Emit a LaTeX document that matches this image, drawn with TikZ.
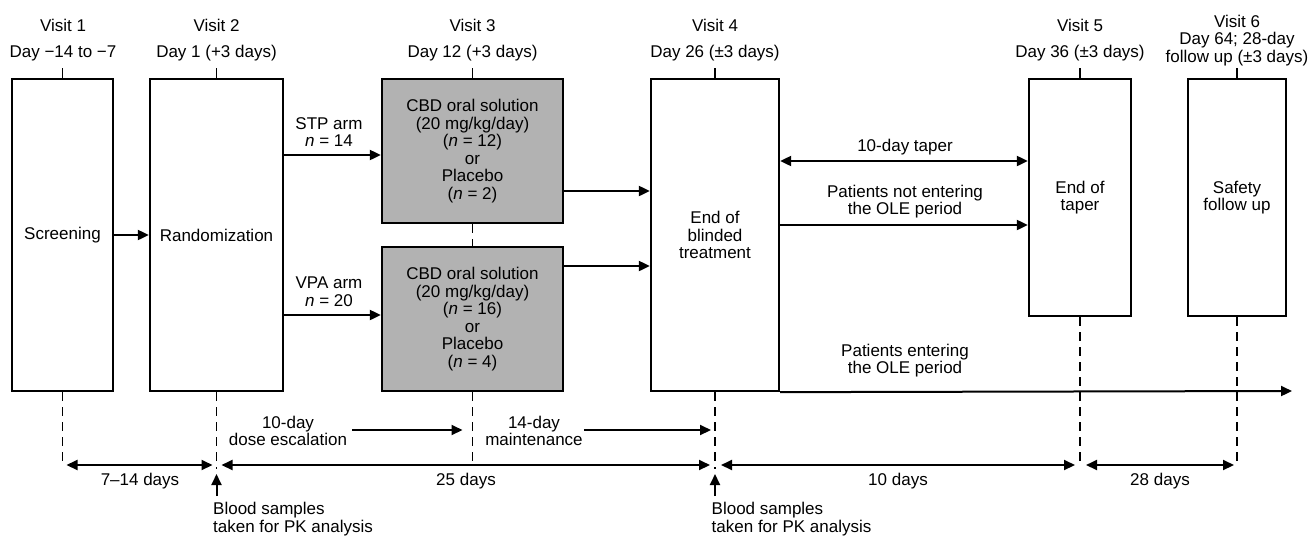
\documentclass[tikz,border=0pt]{standalone}
\usepackage{fontspec}
\setmainfont{Liberation Sans}
\usetikzlibrary{arrows.meta}
\definecolor{boxgray}{RGB}{178,178,178}
\newcommand\dgfont{\fontsize{17}{17.5}\selectfont}
\begin{document}
\begin{tikzpicture}[x=1pt,y=-1pt,
  stage/.style={draw, line width=2.3pt, inner sep=0pt, align=center, font=\dgfont},
  graybox/.style={stage, fill=boxgray, minimum width=181pt, minimum height=144pt},
  lbl/.style={inner sep=0pt, align=center, font=\dgfont},
  arr/.style={line width=2pt, -{Triangle[length=11pt,width=10pt]}},
  darr/.style={line width=2pt, {Triangle[length=11pt,width=10pt]}-{Triangle[length=11pt,width=10pt]}},
  dsh/.style={line width=1.9pt, dash pattern=on 9pt off 6pt},
  tick/.style={line width=1.9pt}]
\useasboundingbox (0,0) rectangle (1311,539);

% boxes
\node[stage, minimum width=101pt, minimum height=312pt] (b1) at (62.5,235) {Screening};
\node[stage, minimum width=133pt, minimum height=312pt] (b2) at (216.5,235) {Randomization};
\node[graybox] (g1) at (472.5,151) {CBD oral solution\\(20 mg/kg/day)\\(\textit{n} = 12)\\or\\Placebo\\(\textit{n} = 2)};
\node[graybox] (g2) at (472.5,319) {CBD oral solution\\(20 mg/kg/day)\\(\textit{n} = 16)\\or\\Placebo\\(\textit{n} = 4)};
\node[stage, minimum width=128pt, minimum height=312pt] (b4) at (715,235) {End of\\blinded\\treatment};
\node[stage, minimum width=102pt, minimum height=237pt] (b5) at (1080,197.5) {End of\\taper};
\node[stage, minimum width=98pt, minimum height=237pt] (b6) at (1237,197.5) {Safety\\follow up};

% visit headers
\node[lbl] (v1) at (63,25) {Visit 1};
\node[lbl] (d1) at (63,53) {Day −14 to −7};
\node[lbl] (v2) at (216.5,25) {Visit 2};
\node[lbl] (d2) at (216.5,53) {Day 1 (+3 days)};
\node[lbl] (v3) at (472.5,25) {Visit 3};
\node[lbl] (d3) at (472.5,53) {Day 12 (+3 days)};
\node[lbl] (v4) at (715,25) {Visit 4};
\node[lbl] (d4) at (715,53) {Day 26 (±3 days)};
\node[lbl] (v5) at (1080,25) {Visit 5};
\node[lbl] (d5) at (1080,53) {Day 36 (±3 days)};
\node[lbl] (v6) at (1237,40.5) {Visit 6\\Day 64; 28-day\\follow up (±3 days)};

% ticks above boxes
\coordinate (tk) at (0,68);
\foreach \b in {b1,b2,g1,b4,b5,b6}{
  \draw[tick] (\b.north) -- (\b.north |- tk);
}
\draw[dsh] (g1.south) -- (g2.north);

% main flow arrows
\draw[arr] (b1.east) -- (b2.west);
\coordinate (stp) at (0,155);
\coordinate (vpa) at (0,315);
\draw[arr] (b2.east |- stp) -- (g1.west |- stp);
\draw[arr] (b2.east |- vpa) -- (g2.west |- vpa);
\node[lbl] (stpl) at (329,132) {STP arm\\\textit{n} = 14};
\node[lbl] (vpal) at (329,291.5) {VPA arm\\\textit{n} = 20};
\coordinate (ga) at (0,191);
\coordinate (gb) at (0,266);
\draw[arr] (g1.east |- ga) -- (b4.west |- ga);
\draw[arr] (g2.east |- gb) -- (b4.west |- gb);

% after end of blinded treatment
\coordinate (tp) at (0,161);
\coordinate (ne) at (0,225);
\draw[darr] (b4.east |- tp) -- (b5.west |- tp);
\node[lbl] (tpl) at (905,147) {10-day taper};
\draw[arr] (b4.east |- ne) -- (b5.west |- ne);
\node[lbl] (nel) at (905,201.5) {Patients not entering\\the OLE period};
\coordinate (oleend) at (1292,391);
\draw[arr] (b4.south east) -- (oleend);
\node[lbl] (olel) at (905,360.5) {Patients entering\\the OLE period};

% dashed drop lines
\coordinate (tl) at (0,466);
\coordinate (tlb) at (0,469);
\draw[dsh] (b1.south) -- (b1.south |- tl);
\draw[dsh] (b2.south) -- (b2.south |- tlb);
\draw[dsh] (g2.south) -- (g2.south |- tl);
\draw[dsh] (b4.south) -- (b4.south |- tlb);
\draw[dsh] (b5.south) -- (b5.south |- tl);
\draw[dsh] (b6.south) -- (b6.south |- tl);

% duration arrows
\coordinate (dl) at (0,465);
\draw[darr] ([xshift=4pt]b1.south |- dl) -- ([xshift=-4pt]b2.south |- dl);
\draw[darr] ([xshift=5pt]b2.south |- dl) -- ([xshift=-5pt]b4.south |- dl);
\draw[darr] ([xshift=6pt]b4.south |- dl) -- ([xshift=-5pt]b5.south |- dl);
\draw[darr] ([xshift=6pt]b5.south |- dl) -- ([xshift=-3pt]b6.south |- dl);
\node[lbl] (l714) at (140,481) {7–14 days};
\node[lbl] (l25) at (466,481) {25 days};
\node[lbl] (l10) at (898,481) {10 days};
\node[lbl] (l28) at (1160,481) {28 days};

% phase arrows
\coordinate (ph) at (0,430);
\node[lbl] (esc) at (288,431) {10-day\\dose escalation};
\node[lbl] (mnt) at (534,431) {14-day\\maintenance};
\draw[arr] (esc.east |- ph) ++(5,0) coordinate (esca) -- ([xshift=-10pt]g2.south |- ph);
\draw[arr] (mnt.east |- ph) ++(1,0) coordinate (mnta) -- ([xshift=-4pt]b4.south |- ph);

% blood samples
\coordinate (bsa) at (0,496);
\coordinate (bsb) at (0,474);
\draw[arr] (b2.south |- bsa) -- (b2.south |- bsb);
\draw[arr] (b4.south |- bsa) -- (b4.south |- bsb);
\node[lbl, align=left, anchor=north west] (bs1) at (213,502) {Blood samples\\taken for PK analysis};
\node[lbl, align=left, anchor=north west] (bs2) at (711.5,502) {Blood samples\\taken for PK analysis};
\end{tikzpicture}
\end{document}
